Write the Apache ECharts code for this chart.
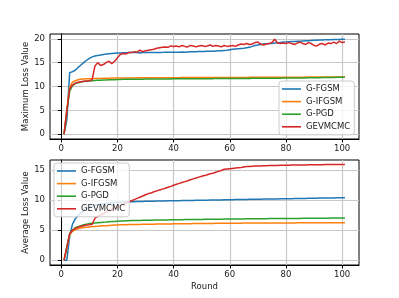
<!DOCTYPE html>
<html>
<head>
<meta charset="utf-8">
<script src="https://cdn.jsdelivr.net/npm/echarts@6/dist/echarts.min.js"></script>
<style>html,body{margin:0;padding:0;background:#fff;}#c{width:399px;height:298px;}</style>
</head>
<body>
<div id="c"></div>
<script>
const seriesNames = ['G-FGSM', 'G-IFGSM', 'G-PGD', 'GEVMCMC'];
const xTicks = [0, 20, 40, 60, 80, 100];
const yTicksTop = [0, 5, 10, 15, 20];
const yTicksBottom = [0, 5, 10, 15];

// Maximum Loss Value (rounds 1..101)
const maxFGSM = [0,3.0,12.9,13.1,13.4,14.0,14.5,15.0,15.5,15.9,
16.2,16.4,16.5,16.6,16.7,16.8,16.85,16.9,16.95,17.0,
17.0,17.05,17.05,17.1,17.1,17.1,17.1,17.0,17.1,17.1,
17.1,17.1,17.1,17.15,17.15,17.15,17.2,17.2,17.2,17.2,
17.2,17.2,17.25,17.2,17.25,17.3,17.3,17.3,17.35,17.35,
17.35,17.4,17.4,17.4,17.45,17.5,17.5,17.55,17.6,17.7,
17.8,17.85,17.9,17.95,18.0,18.1,18.2,18.4,18.6,18.7,
18.8,18.9,18.95,19.0,19.0,19.1,19.15,19.2,19.3,19.35,
19.4,19.45,19.45,19.5,19.5,19.55,19.6,19.6,19.65,19.7,
19.7,19.75,19.75,19.8,19.8,19.8,19.85,19.85,19.85,19.9,19.9];
const maxIFGSM = [0,5.2,9.8,10.9,11.2,11.4,11.5,11.55,11.6,11.65,
11.65,11.7,11.7,11.7,11.72,11.74,11.75,11.76,11.77,11.78,
11.78,11.79,11.8,11.8,11.8,11.8,11.81,11.81,11.82,11.82,
11.82,11.82,11.83,11.83,11.83,11.84,11.84,11.84,11.85,11.85,
11.85,11.85,11.86,11.86,11.86,11.86,11.87,11.87,11.87,11.87,
11.88,11.88,11.88,11.88,11.89,11.89,11.89,11.89,11.9,11.9,
11.9,11.9,11.91,11.91,11.91,11.91,11.92,11.92,11.92,11.92,
11.93,11.93,11.93,11.93,11.94,11.94,11.94,11.94,11.95,11.95,
11.95,11.95,11.96,11.96,11.96,11.96,11.97,11.97,11.97,11.97,
11.98,11.98,11.98,11.98,11.99,11.99,11.99,11.99,12.0,12.0,12.0];
const maxPGD = [0,4.8,9.0,10.2,10.6,10.8,10.95,11.05,11.1,11.15,
11.2,11.25,11.3,11.3,11.35,11.38,11.4,11.42,11.44,11.46,
11.48,11.5,11.5,11.51,11.52,11.52,11.53,11.54,11.54,11.55,
11.55,11.56,11.56,11.57,11.57,11.58,11.58,11.59,11.59,11.6,
11.6,11.6,11.61,11.61,11.62,11.62,11.62,11.63,11.63,11.64,
11.64,11.64,11.65,11.65,11.66,11.66,11.66,11.67,11.67,11.68,
11.68,11.68,11.69,11.69,11.7,11.7,11.7,11.71,11.71,11.72,
11.72,11.72,11.73,11.73,11.74,11.74,11.75,11.75,11.76,11.76,
11.77,11.77,11.78,11.78,11.79,11.8,11.8,11.81,11.82,11.83,
11.84,11.85,11.86,11.87,11.88,11.89,11.9,11.92,11.93,11.95,11.97];
const maxGEVMCMC = [0,5.0,9.5,10.3,10.7,10.9,11.0,11.1,11.15,11.2,
11.4,14.3,15.0,14.4,14.6,15.0,15.3,14.8,15.3,16.0,
16.7,16.9,16.8,17.1,17.1,17.3,17.2,17.6,17.3,17.5,
17.6,17.7,17.8,18.0,18.1,18.2,18.3,18.2,18.5,18.4,
18.5,18.3,18.6,18.4,18.3,18.6,18.5,18.3,18.5,18.6,
18.4,18.5,18.7,18.4,18.6,18.5,18.3,18.6,18.4,18.5,
18.6,18.4,18.7,18.9,18.8,19.0,18.8,18.9,19.2,19.3,
18.9,18.7,18.9,19.0,19.2,19.9,19.1,19.0,19.1,19.0,
19.2,19.0,18.8,19.1,19.3,19.0,18.8,19.2,19.0,18.6,
18.5,18.9,19.0,18.7,19.1,19.0,19.3,19.0,19.5,19.2,19.3];

// Average Loss Value (rounds 1..101)
const avgFGSM = [0,0,4.0,6.0,6.9,7.4,7.9,8.3,8.6,8.85,
9.0,9.15,9.25,9.35,9.42,9.48,9.53,9.57,9.6,9.63,
9.66,9.68,9.7,9.72,9.74,9.75,9.77,9.78,9.8,9.81,
9.82,9.83,9.84,9.85,9.86,9.87,9.88,9.89,9.9,9.9,
9.91,9.92,9.93,9.94,9.95,9.96,9.97,9.98,9.99,10.0,
10.0,10.01,10.02,10.03,10.04,10.05,10.05,10.06,10.07,10.08,
10.09,10.1,10.1,10.11,10.12,10.13,10.14,10.15,10.15,10.16,
10.17,10.18,10.19,10.2,10.2,10.21,10.22,10.23,10.24,10.25,
10.25,10.26,10.27,10.28,10.29,10.3,10.3,10.31,10.32,10.33,
10.34,10.35,10.35,10.36,10.37,10.38,10.38,10.39,10.4,10.4,10.41];
const avgIFGSM = [0,2.1,4.2,4.8,5.1,5.25,5.35,5.45,5.5,5.55,
5.6,5.63,5.66,5.7,5.73,5.76,5.79,5.82,5.85,5.88,
5.9,5.91,5.92,5.93,5.94,5.95,5.96,5.97,5.98,5.99,
6.0,6.0,6.01,6.02,6.03,6.03,6.04,6.05,6.05,6.06,
6.07,6.07,6.08,6.08,6.09,6.09,6.1,6.1,6.11,6.11,
6.12,6.12,6.13,6.13,6.14,6.14,6.15,6.15,6.15,6.16,
6.16,6.17,6.17,6.17,6.18,6.18,6.18,6.19,6.19,6.19,
6.2,6.2,6.2,6.2,6.21,6.21,6.21,6.21,6.22,6.22,
6.22,6.22,6.22,6.23,6.23,6.23,6.23,6.23,6.24,6.24,
6.24,6.24,6.24,6.24,6.25,6.25,6.25,6.25,6.25,6.25,6.26];
const avgPGD = [0,2.2,4.4,5.0,5.4,5.6,5.75,5.9,6.0,6.1,
6.15,6.2,6.25,6.3,6.33,6.36,6.4,6.43,6.46,6.5,
6.52,6.54,6.56,6.58,6.6,6.61,6.62,6.63,6.64,6.65,
6.66,6.67,6.68,6.69,6.7,6.71,6.72,6.72,6.73,6.74,
6.75,6.75,6.76,6.77,6.77,6.78,6.79,6.79,6.8,6.8,
6.81,6.82,6.82,6.83,6.83,6.84,6.84,6.85,6.85,6.86,
6.86,6.87,6.87,6.88,6.88,6.89,6.89,6.9,6.9,6.91,
6.91,6.92,6.92,6.93,6.93,6.93,6.94,6.94,6.95,6.95,
6.96,6.96,6.96,6.97,6.97,6.98,6.98,6.98,6.99,6.99,
7.0,7.0,7.0,7.01,7.01,7.02,7.02,7.03,7.03,7.04,7.05];
const avgGEVMCMC = [0,2.2,4.4,5.0,5.3,5.5,5.65,5.75,5.85,5.9,
6.0,7.0,7.3,7.5,7.8,8.0,8.25,8.5,8.7,8.9,
9.1,9.3,9.5,9.7,9.9,10.1,10.3,10.5,10.7,10.9,
11.1,11.2,11.4,11.55,11.7,11.85,12.0,12.15,12.3,12.5,
12.65,12.8,12.95,13.1,13.25,13.4,13.55,13.7,13.85,14.0,
14.1,14.25,14.4,14.5,14.65,14.8,14.95,15.15,15.2,15.25,
15.3,15.35,15.4,15.45,15.55,15.6,15.62,15.65,15.68,15.7,
15.72,15.74,15.75,15.77,15.78,15.8,15.8,15.81,15.82,15.83,
15.84,15.85,15.85,15.86,15.87,15.88,15.88,15.89,15.9,15.9,
15.91,15.92,15.92,15.93,15.93,15.94,15.94,15.95,15.95,15.95,15.96];

const colors = ['#1f77b4', '#ff7f0e', '#2ca02c', '#d62728'];
const FONT = 'DejaVu Sans';
const TXT = '#1a1a1a';

const pair = arr => arr.map((v, i) => [i + 1, v]);

function xAxisCfg(gi, withName) {
  return {
    type: 'value', gridIndex: gi, min: -4, max: 106, splitNumber: 5,
    axisLine: { show: true, onZero: false, lineStyle: { color: '#000', width: 1 } },
    axisTick: { show: true, length: 3.5, inside: false, customValues: xTicks, lineStyle: { color: '#000', width: 1 } },
    axisLabel: { customValues: xTicks, margin: 5, fontFamily: FONT, fontSize: 8.5, color: TXT },
    splitLine: { show: true, lineStyle: { color: '#c8c8c8', width: 1.2 } },
    name: withName ? 'Round' : '', nameLocation: 'middle', nameGap: 17, nameMoveOverlap: false,
    nameTextStyle: { fontFamily: FONT, fontSize: 8.5, color: TXT, verticalAlign: 'top' }
  };
}
function yAxisCfg(gi, min, max, ticks, name) {
  return {
    type: 'value', gridIndex: gi, min: min, max: max, splitNumber: 4,
    axisLine: { show: true, lineStyle: { color: '#000', width: 1 } },
    axisTick: { show: true, length: 3.5, customValues: ticks, lineStyle: { color: '#000', width: 1 } },
    axisLabel: { customValues: ticks, margin: 5, fontFamily: FONT, fontSize: 8.5, color: TXT },
    splitLine: { show: true, lineStyle: { color: '#c8c8c8', width: 1.2 } },
    name: name, nameLocation: 'middle', nameGap: 20, nameMoveOverlap: false,
    nameTextStyle: { fontFamily: FONT, fontSize: 8.5, color: TXT }
  };
}

const topData = [maxFGSM, maxIFGSM, maxPGD, maxGEVMCMC];
const botData = [avgFGSM, avgIFGSM, avgPGD, avgGEVMCMC];
const series = [];
seriesNames.forEach((n, i) => {
  series.push({ name: n, type: 'line', xAxisIndex: 0, yAxisIndex: 0, data: pair(topData[i]), symbol: 'none',
    lineStyle: { color: colors[i], width: 1.5 }, itemStyle: { color: colors[i] }, animation: false });
});
seriesNames.forEach((n, i) => {
  series.push({ name: n, type: 'line', xAxisIndex: 1, yAxisIndex: 1, data: pair(botData[i]), symbol: 'none',
    lineStyle: { color: colors[i], width: 1.5 }, itemStyle: { color: colors[i] }, animation: false });
});

function legendCfg(left, top) {
  return {
    left: left, top: top, orient: 'vertical', data: seriesNames,
    icon: 'rect', itemWidth: 19, itemHeight: 1.6, itemGap: 2.6,
    padding: [3, 4, 3, 3],
    backgroundColor: 'rgba(255,255,255,0.8)', borderColor: '#cccccc', borderWidth: 1, borderRadius: 3,
    textStyle: { fontFamily: FONT, fontSize: 8.5, color: TXT, lineHeight: 10 },
    selectedMode: false
  };
}

const chart = echarts.init(document.getElementById('c'), null, { renderer: 'canvas' });
chart.setOption({
  backgroundColor: '#fff',
  animation: false,
  grid: [
    { left: 50, top: 34, width: 309, height: 105, show: true, borderColor: '#000', borderWidth: 1, backgroundColor: 'transparent' },
    { left: 50, top: 160, width: 309, height: 105, show: true, borderColor: '#000', borderWidth: 1, backgroundColor: 'transparent' }
  ],
  xAxis: [xAxisCfg(0, false), xAxisCfg(1, true)],
  yAxis: [yAxisCfg(0, -1, 21, yTicksTop, 'Maximum Loss Value'), yAxisCfg(1, -0.8, 16.7, yTicksBottom, 'Average Loss Value')],
  legend: [legendCfg(279, 81), legendCfg(54, 163)],
  series: series
});
</script>
</body>
</html>
